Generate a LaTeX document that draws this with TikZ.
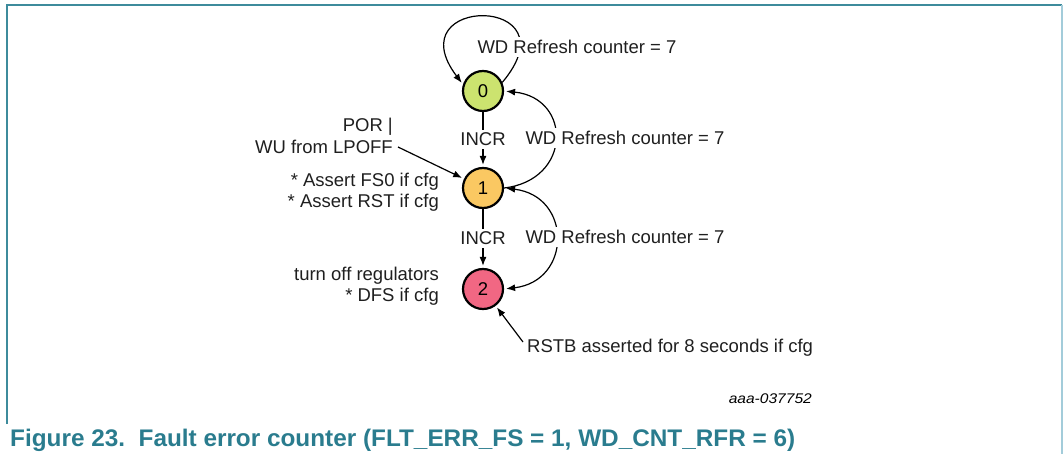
\documentclass[tikz,border=0pt]{standalone}
\usepackage{fontspec}
\setmainfont{Liberation Sans}
\usetikzlibrary{arrows.meta}
\definecolor{frameteal}{HTML}{3D8B9C}
\definecolor{framelight}{HTML}{A3CCDA}
\definecolor{captionteal}{HTML}{2A7C8E}
\definecolor{stgreen}{HTML}{CCE36F}
\definecolor{storange}{HTML}{FAC862}
\definecolor{stpink}{HTML}{F16783}
\begin{document}
\begin{tikzpicture}[x=1pt,y=-1pt,
  lbl/.style={font=\fontsize{18.5}{21.5}\selectfont, inner sep=0pt, text=black!88},
  stnode/.style={circle, draw=black, line width=2.2pt, minimum size=40pt, inner sep=0pt, font=\fontsize{18.5}{21.5}\selectfont},
  conn/.style={line width=1.2pt, -{Latex[length=9pt,width=7pt]}, shorten >=2pt},
  wbg/.style={lbl, fill=white, inner sep=3pt}]
\useasboundingbox (0,0) rectangle (1064,454);
% frame
\draw[frameteal, line width=1.5pt] (7,424) -- (7,5) -- (1062,5);
\draw[framelight, line width=2pt] (1062,5) -- (1062,454);
% states
\node[stnode, fill=stgreen] (n0) at (483,91) {0};
\node[stnode, fill=storange] (n1) at (483,188) {1};
\node[stnode, fill=stpink] (n2) at (483,289) {2};
% self loop on 0
\draw[conn] (n0.24) .. controls +(74,-88) and +(-68,-90) .. (n0.162);
\node[wbg] (l0) at (577,47) {WD Refresh counter = 7};
% INCR arrows
\draw[conn] (n0) -- (n1) node[wbg, midway] (i1) {INCR};
\draw[conn] (n1) -- (n2) node[wbg, midway] (i2) {INCR};
% return curves
\draw[conn] (n1.east) .. controls +(68,-8) and +(68,7) .. (n0.east);
\draw[conn, {Latex[length=9pt,width=7pt]}-{Latex[length=9pt,width=7pt]}, shorten <=2pt] (n2.east) .. controls +(68,-8) and +(68,8) .. (n1.east);
\node[wbg] (l1) at (625,138) {WD Refresh counter = 7};
\node[wbg] (l2) at (625,237) {WD Refresh counter = 7};
% left labels
\node[lbl, anchor=east, align=right] (por) at (393,136) {POR |\\WU from LPOFF};
\coordinate (porend) at (398,147);
\draw[conn] (porend) -- (n1);
\node[lbl, anchor=east, align=right] (a1) at (439,192) {* Assert FS0 if cfg\\* Assert RST if cfg};
\node[lbl, anchor=east, align=right] (a2) at (439,286) {turn off regulators\\* DFS if cfg};
% RSTB
\node[lbl, anchor=west] (rstb) at (527,348) {RSTB asserted for 8 seconds if cfg};
\coordinate (rstbend) at (523,342);
\draw[conn] (rstbend) -- (n2);
% id and caption
\node[anchor=base east, inner sep=0pt, font=\fontsize{14}{16}\selectfont\itshape] (id) at (812,403) {\resizebox{83pt}{\height}{aaa-037752}};
\node[anchor=base west, inner sep=0pt, text=captionteal, font=\fontsize{24}{28}\selectfont\bfseries] (cap) at (10,446) {\resizebox{785pt}{\height}{Figure 23.\ \ Fault error counter (FLT\_ERR\_FS = 1, WD\_CNT\_RFR = 6)}};
\end{tikzpicture}
\end{document}
